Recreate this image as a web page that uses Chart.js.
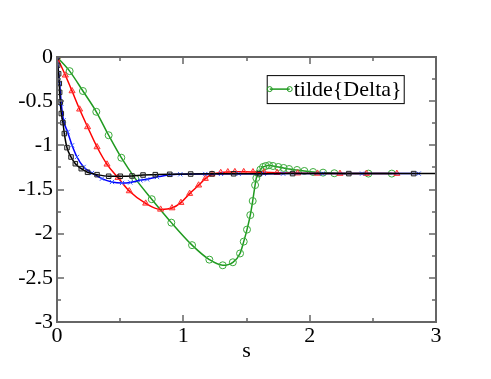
<!DOCTYPE html>
<html>
<head>
<meta charset="utf-8">
<script src="https://cdn.jsdelivr.net/npm/chart.js@4"></script>
<style>
html,body{margin:0;padding:0;background:#fff;}
#wrap{width:491px;height:379px;}
</style>
</head>
<body>
<div id="wrap"><canvas id="c" width="491" height="379"></canvas></div>
<script>
const xTickLabels = ['0', '1', '2', '3'];
const yTickLabels = ['0', '-0.5', '-1', '-1.5', '-2', '-2.5', '-3'];
const legendLabel = 'tilde{Delta}';

const greenS = [0, 0.1, 0.205, 0.311, 0.409, 0.509, 0.62, 0.75, 0.905, 1.069, 1.206, 1.312, 1.392, 1.449, 1.478, 1.504, 1.53, 1.549, 1.568, 1.578, 1.594, 1.61, 1.631, 1.652, 1.678, 1.71, 1.752, 1.794, 1.837, 1.9, 1.958, 2.027, 2.106, 2.195, 2.465, 2.65];
const greenV = [0, -0.16, -0.385, -0.62, -0.886, -1.14, -1.377, -1.61, -1.875, -2.13, -2.294, -2.358, -2.324, -2.224, -2.09, -1.954, -1.79, -1.63, -1.45, -1.37, -1.32, -1.275, -1.245, -1.234, -1.226, -1.234, -1.245, -1.256, -1.268, -1.279, -1.29, -1.302, -1.309, -1.316, -1.32, -1.32];

const redS = [0, 0.066, 0.119, 0.179, 0.242, 0.317, 0.396, 0.483, 0.572, 0.702, 0.82, 0.91, 0.981, 1.05, 1.121, 1.174, 1.227, 1.296, 1.352, 1.408, 1.478, 1.551, 1.64, 1.742, 1.905, 2.062, 2.24, 2.449, 2.69];
const redV = [0, -0.207, -0.385, -0.592, -0.792, -1.019, -1.215, -1.366, -1.517, -1.657, -1.725, -1.71, -1.649, -1.547, -1.452, -1.377, -1.328, -1.31, -1.302, -1.3, -1.3, -1.302, -1.306, -1.31, -1.315, -1.318, -1.32, -1.32, -1.32];

const blueS = [0, 0.021, 0.034, 0.052, 0.084, 0.119, 0.158, 0.211, 0.277, 0.356, 0.435, 0.515, 0.58, 0.66, 0.713, 0.792, 0.897, 0.976, 1.174, 1.298, 1.438, 1.636, 1.79, 2.1, 2.415, 2.863];
const blueV = [0, -0.3, -0.53, -0.717, -0.849, -1.0, -1.132, -1.245, -1.313, -1.377, -1.415, -1.426, -1.42, -1.396, -1.385, -1.358, -1.332, -1.328, -1.325, -1.323, -1.322, -1.321, -1.32, -1.32, -1.32, -1.32];

const blackS = [0, 0.005, 0.013, 0.018, 0.021, 0.026, 0.034, 0.047, 0.058, 0.079, 0.111, 0.145, 0.192, 0.242, 0.317, 0.409, 0.501, 0.594, 0.681, 0.778, 0.892, 1.058, 1.227, 1.398, 1.6, 1.865, 2.31, 2.823, 3.0];
const blackV = [0, -0.094, -0.19, -0.3, -0.4, -0.51, -0.64, -0.743, -0.867, -1.026, -1.132, -1.208, -1.264, -1.305, -1.332, -1.35, -1.35, -1.347, -1.336, -1.332, -1.328, -1.325, -1.323, -1.322, -1.321, -1.32, -1.32, -1.32, -1.32];

function zip(s, v) { return s.map((x, i) => ({x: x, y: v[i]})); }

const FONT = "'Liberation Serif', 'DejaVu Serif', serif";
const GREEN = '#1f9a1f';

const framePlugin = {
  id: 'frame',
  afterDatasetsDraw(chart) {
    const ctx = chart.ctx;
    const a = chart.chartArea;
    const xs = chart.scales.x, ys = chart.scales.y;
    ctx.save();
    ctx.strokeStyle = '#666';
    ctx.lineWidth = 2;
    ctx.strokeRect(a.left, a.top, a.right - a.left, a.bottom - a.top);
    ctx.lineWidth = 1.5;
    for (let k = 0; k <= 6; k++) {
      const v = k * 0.5;
      const p = Math.round(xs.getPixelForValue(v));
      const len = (k % 2 === 0) ? 7 : 4;
      ctx.beginPath();
      ctx.moveTo(p, a.bottom); ctx.lineTo(p, a.bottom - len);
      ctx.moveTo(p, a.top); ctx.lineTo(p, a.top + len);
      ctx.stroke();
    }
    for (let k = 0; k <= 12; k++) {
      const v = -k * 0.25;
      const p = Math.round(ys.getPixelForValue(v));
      const len = (k % 2 === 0) ? 7 : 4;
      ctx.beginPath();
      ctx.moveTo(a.left, p); ctx.lineTo(a.left + len, p);
      ctx.moveTo(a.right, p); ctx.lineTo(a.right - len, p);
      ctx.stroke();
    }
    // legend box
    const lx = xs.getPixelForValue(1.66), ly = ys.getPixelForValue(-0.205);
    const lw = 137, lh = 28;
    ctx.fillStyle = '#fff';
    ctx.fillRect(lx, ly, lw, lh);
    ctx.strokeStyle = '#000';
    ctx.lineWidth = 1;
    ctx.strokeRect(lx + 0.5, ly + 0.5, lw, lh);
    const cy = ly + lh / 2;
    ctx.strokeStyle = GREEN;
    ctx.lineWidth = 1.5;
    ctx.beginPath(); ctx.moveTo(lx + 3, cy); ctx.lineTo(lx + 23, cy); ctx.stroke();
    ctx.lineWidth = 1;
    [lx + 3, lx + 23].forEach(px => { ctx.beginPath(); ctx.arc(px, cy, 2.5, 0, Math.PI * 2); ctx.stroke(); });
    ctx.fillStyle = '#000';
    ctx.font = '22px ' + FONT;
    ctx.textBaseline = 'middle';
    ctx.textAlign = 'left';
    ctx.fillText(legendLabel, lx + 27, cy + 1);
    ctx.restore();
  }
};

const common = {
  showLine: true,
  fill: false,
  borderWidth: 1.5,
  cubicInterpolationMode: 'monotone',
  pointBorderWidth: 1
};

new Chart(document.getElementById('c'), {
  type: 'scatter',
  data: {
    datasets: [
      Object.assign({}, common, {
        label: 'black', data: zip(blackS, blackV), borderColor: '#000',
        pointStyle: 'rect', pointBorderColor: '#222', pointBackgroundColor: 'rgba(0,0,0,0.12)',
        pointRadius: ctx => ctx.dataIndex === blackS.length - 1 ? 0 : 3.2, order: 0
      }),
      Object.assign({}, common, {
        label: 'blue', data: zip(blueS, blueV), borderColor: '#0000ff',
        pointStyle: 'crossRot', pointBorderColor: '#3355ff', pointBackgroundColor: 'rgba(0,0,0,0)',
        pointRadius: 3, order: 1
      }),
      Object.assign({}, common, {
        label: 'red', data: zip(redS, redV), borderColor: '#ff0000',
        pointStyle: 'triangle', pointBorderColor: '#ff3333', pointBackgroundColor: 'rgba(255,0,0,0.25)',
        pointRadius: 3.5, order: 2
      }),
      Object.assign({}, common, {
        label: legendLabel, data: zip(greenS, greenV), borderColor: GREEN,
        pointStyle: 'circle', pointBorderColor: '#3aaa3a', pointBackgroundColor: 'rgba(0,0,0,0)',
        pointRadius: 3.5, order: 3
      })
    ]
  },
  options: {
    responsive: false,
    animation: false,
    layout: { padding: { top: 57, right: 55, bottom: 0, left: 0 } },
    plugins: { legend: { display: false }, tooltip: { enabled: false } },
    scales: {
      x: {
        type: 'linear', min: 0, max: 3,
        grid: { display: false, drawTicks: false },
        border: { display: false },
        ticks: {
          stepSize: 1, autoSkip: false, maxRotation: 0, padding: 1,
          color: '#000', font: { family: FONT, size: 22 },
          callback: (v) => { const i = Math.round(v); return (Math.abs(v - i) < 1e-6 && i >= 0 && i < xTickLabels.length) ? xTickLabels[i] : ''; }
        },
        title: { display: true, text: 's', color: '#000', font: { family: FONT, size: 22 }, padding: { top: 0, bottom: 15 } },
        afterFit: (s) => { s.height = 57; }
      },
      y: {
        type: 'linear', min: -3, max: 0,
        grid: { display: false, drawTicks: false },
        border: { display: false },
        ticks: {
          stepSize: 0.5, autoSkip: false, padding: 4,
          color: '#000', font: { family: FONT, size: 22 },
          callback: (v) => { const i = Math.round(-v * 2); return (Math.abs(-v * 2 - i) < 1e-6 && i >= 0 && i < yTickLabels.length) ? yTickLabels[i] : ''; }
        },
        afterFit: (s) => { s.width = 57; }
      }
    }
  },
  plugins: [framePlugin]
});
</script>
</body>
</html>
